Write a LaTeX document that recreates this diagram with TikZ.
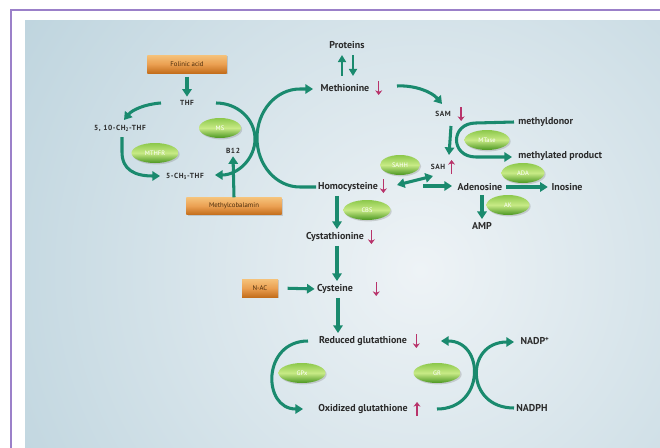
\documentclass[tikz,border=0pt]{standalone}
\usepackage{fontspec}
\setmainfont{PT Sans}
\newfontfamily\spaced{PT Sans}[LetterSpace=8]
\usetikzlibrary{arrows.meta,shapes.geometric,shadows,calc}
\definecolor{teal1}{HTML}{1A8A6E}
\definecolor{mag1}{HTML}{B8336A}
\definecolor{txt}{HTML}{2B2B2B}
\definecolor{framec}{HTML}{9B80C9}
\definecolor{bgout}{HTML}{A8C6D3}
\definecolor{bgin}{HTML}{EEF3F6}
\definecolor{gtop}{HTML}{8CC84B}
\definecolor{gmid}{HTML}{C8EA86}
\definecolor{gbot}{HTML}{4A9620}
\definecolor{otop}{HTML}{F5C27A}
\definecolor{omid}{HTML}{EBA052}
\definecolor{obot}{HTML}{C46E1C}
\definecolor{otext}{HTML}{4A2C0C}
\begin{document}
\begin{tikzpicture}[x=0.03cm,y=-0.03cm,
  lbl/.style={font=\fontsize{8.5}{10}\selectfont\bfseries, text=txt, inner sep=1pt},
  slbl/.style={font=\fontsize{6.3}{8}\selectfont\spaced\bfseries, text=txt, inner sep=1pt},
  enz/.style={ellipse, minimum width=1.41cm, minimum height=0.6cm, inner sep=0pt,
    top color=gtop, bottom color=gbot, middle color=gmid,
    font=\fontsize{5.5}{6}\selectfont, text=white,
    drop shadow={opacity=0.3,shadow xshift=1pt,shadow yshift=-1.2pt}},
  orbox/.style={rectangle, inner sep=0pt, top color=otop, bottom color=obot, middle color=omid,
    font=\fontsize{5.8}{7}\selectfont, text=otext,
    drop shadow={opacity=0.3,shadow xshift=1pt,shadow yshift=-1.2pt}},
  arr/.style={draw=teal1, line width=2.6pt, -{Triangle[length=6.5pt,width=8pt]}},
  sarr/.style={draw=teal1, line width=2.4pt, -{Triangle[length=6pt,width=6.8pt]}},
  dbl/.style={draw=teal1, line width=2.6pt, {Triangle[length=6.5pt,width=8pt]}-{Triangle[length=6.5pt,width=8pt]}},
  tline/.style={draw=teal1, line width=2.6pt},
  mg/.style={draw=mag1, line width=1.2pt, -{Stealth[length=4pt,width=6pt]}},
]
\useasboundingbox (0,0) rectangle (660,448);
\fill[white] (0,0) rectangle (660,448);
\begin{scope}
  \clip (25,20) rectangle (660,448);
  \fill[bgout] (25,20) rectangle (660,448);
  \shade[inner color=bgin, outer color=bgout] (420,270) circle[radius=21cm];
\end{scope}
\draw[framec, line width=1.3pt] (11,448) -- (11,10) -- (660,10);

% text nodes
\node[orbox, minimum width=2.37cm, minimum height=0.54cm] (fol) at (187,64) {Folinic acid};
\node[slbl] (thf) at (187,103) {THF};
\node[slbl] (ch2) at (120,128) {5, 10-CH\textsubscript{2}-THF};
\node[slbl] (ch3) at (185,176) {5-CH\textsubscript{3}-THF};
\node[slbl] (b12) at (233,151) {B12};
\node[orbox, minimum width=2.85cm, minimum height=0.51cm] (mcb) at (234,206) {Methylcobalamin};
\node[lbl] (prot) at (347,45) {Proteins};
\node[lbl] (met) at (345,88) {Methionine};
\node[slbl] (sam) at (443,114) {SAM};
\node[slbl] (sah) at (438,167) {SAH};
\node[lbl, anchor=west] (mdon) at (517,122) {methyldonor};
\node[lbl, anchor=west] (mprod) at (517,156) {methylated product};
\node[lbl] (hcy) at (348,187) {Homocysteine};
\node[lbl] (ado) at (480,187) {Adenosine};
\node[lbl] (ino) at (567,187) {Inosine};
\node[lbl] (amp) at (482,226) {AMP};
\node[lbl] (cysta) at (335,237) {Cystathionine};
\node[lbl] (cyst) at (335,289) {Cysteine};
\node[orbox, minimum width=1.08cm, minimum height=0.54cm] (nac) at (260,288) {N-AC};
\node[lbl] (red) at (363,341) {Reduced glutathione};
\node[lbl] (oxi) at (363,409) {Oxidized glutathione};
\node[lbl] (nadp) at (535,341) {NADP\textsuperscript{+}};
\node[lbl] (nadph) at (532,408) {NADPH};

% connector end points
\coordinate (thfW) at (161,103); \coordinate (ch2N) at (124,120);
\coordinate (ch2S) at (122,137); \coordinate (ch3W) at (160,176);
\coordinate (thfE) at (216,103); \coordinate (ch3E) at (215,175);
\coordinate (hcyW) at (316,187); \coordinate (metW) at (313,89);
\coordinate (metE) at (397,86); \coordinate (samN) at (442,104);
\coordinate (samS) at (451,126); \coordinate (sahN) at (449,155);
\coordinate (mdonW) at (514,122); \coordinate (mprodW) at (512,157);
\coordinate (hcyE) at (397,185); \coordinate (sahW) at (433,176);
\coordinate (adoW0) at (423,186); \coordinate (adoW) at (452,186);
\coordinate (redW) at (308,341); \coordinate (oxiW) at (303,409);
\coordinate (oxiE) at (437,409); \coordinate (redE) at (441,341);
\coordinate (nadphW) at (514,408); \coordinate (nadpW) at (514,342);

% teal connectors
\draw[arr, shorten <=3pt, shorten >=2pt] (fol.south) -- (thf.north);
\draw[arr] (thfW) .. controls (145,104) and (132,110) .. (ch2N);
\draw[arr] (ch2S) -- (122,152) .. controls (122,170) and (135,176) .. (ch3W);
\draw[arr] (thfE) .. controls (237.5,103) and (255,119) .. (255,139)
  .. controls (255,159) and (237.5,175) .. (ch3E);
\draw[arr, shorten >=1pt] (mcb.north) -- (b12.south);
\draw[arr] (hcyW) -- (300,187) .. controls (276,187) and (257,165) .. (257,138)
  .. controls (257,111) and (276,89) .. (300,89) -- (metW);
\draw[sarr] ($(met.north)+(-3,-7)$) -- ($(prot.south)+(-5,5)$);
\draw[sarr] ($(prot.south)+(6,5)$) -- ($(met.north)+(8,-7)$);
\draw[arr] (metE) .. controls (415,85) and (432,92) .. (samN);
\draw[arr] (samS) -- (sahN);
\draw[arr] (mdonW) -- (476,123) .. controls (450,123) and (450,157) .. (476,157) -- (mprodW);
\draw[dbl] (hcyE) -- (sahW);
\draw[arr] (adoW0) -- (adoW);
\draw[arr, shorten <=2pt, shorten >=2pt] (ado.east) -- (ino.west);
\draw[arr] ($(ado.south)+(2,3)$) -- ($(amp.north)+(0,-2)$);
\draw[arr] ($(hcy.south)+(-11,3)$) -- ($(cysta.north)+(2,-2)$);
\draw[arr] ($(cysta.south)+(2,3)$) -- ($(cyst.north)+(2,-2)$);
\draw[arr, shorten <=8pt, shorten >=1pt] (nac.east) -- (cyst.west);
\draw[arr] ($(cyst.south)+(3,3)$) -- ($(red.north)+(-25,-2)$);
\draw[arr] (redW) .. controls (262,341) and (262,409) .. (oxiW);
\draw[arr] (oxiE) .. controls (485,409) and (485,341) .. (redE);
\draw[arr] (nadphW) .. controls (465,408) and (465,342) .. (nadpW);

% magenta indicators
\draw[mg] ($(met.east)+(8,-7)$) -- ++(0,14);
\draw[mg] ($(sam.east)+(9,-7)$) -- ++(0,14);
\draw[mg] ($(sah.east)+(5,7)$) -- ++(0,-14);
\draw[mg] ($(hcy.east)+(4,-8)$) -- ++(0,14);
\draw[mg] ($(cysta.east)+(6,-7)$) -- ++(0,14);
\draw[mg] ($(cyst.east)+(22,-7)$) -- ++(0,14);
\draw[mg] ($(red.east)+(8,-7)$) -- ++(0,14);
\draw[mg] ($(oxi.east)+(8,7)$) -- ++(0,-14);

% enzymes
\node[enz] (mthfr) at (155,153) {MTHFR};
\node[enz, minimum width=1.26cm] (ms) at (220,128) {MS};
\node[enz, minimum width=1.35cm] (mtase) at (487,140) {MTase};
\node[enz, minimum width=1.2cm] (sahh) at (400,165) {SAHH};
\node[enz, minimum width=1.29cm] (ada) at (523,173) {ADA};
\node[enz, minimum width=1.29cm] (ak) at (508,205) {AK};
\node[enz] (cbs) at (367,210) {CBS};
\node[enz] (gpx) at (302,373) {GPx};
\node[enz] (gr) at (437,373) {GR};
\end{tikzpicture}
\end{document}
